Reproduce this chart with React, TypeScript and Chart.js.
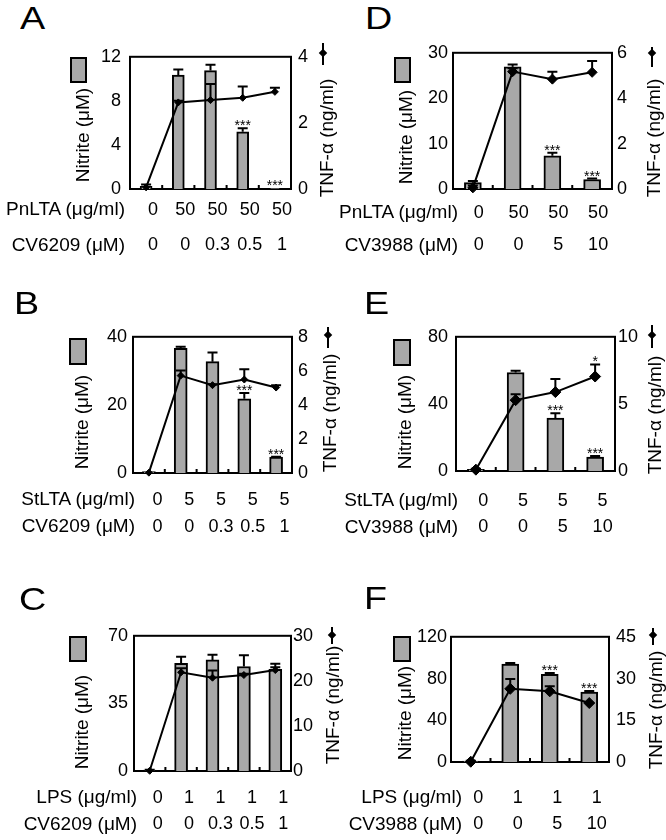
import React, { useEffect, useRef } from 'react';
import { Chart, registerables } from 'chart.js';
Chart.register(...registerables);

Chart.defaults.font.family = '"Liberation Sans", Arial, sans-serif';
Chart.defaults.color = '#000';

// ---------- DATA ----------
// Panel A
const A_dose = ['0', '50', '50', '50', '50'];
const A_inhib = ['0', '0', '0.3', '0.5', '1'];
const A_nitrite = [0.25, 10.35, 10.75, 5.2, 0.05];
const A_nitriteErr = [0.15, 0.5, 0.52, 0.32, 0];
const A_tnf = [0.05, 2.62, 2.69, 2.76, 2.94];
const A_tnfErr = [0, 0.05, 0.49, 0.34, 0.12];
const A_barStars = ['', '', '', '***', '***'];
const A_lineStars = ['', '', '', '', ''];

// Panel B
const B_dose = ['0', '5', '5', '5', '5'];
const B_inhib = ['0', '0', '0.3', '0.5', '1'];
const B_nitrite = [0.4, 36.6, 32.7, 21.8, 4.65];
const B_nitriteErr = [0, 0.5, 2.7, 1.7, 0.15];
const B_tnf = [0.02, 5.72, 5.16, 5.49, 5.02];
const B_tnfErr = [0, 0.3, 0.05, 0.6, 0.13];
const B_barStars = ['', '', '', '***', '***'];
const B_lineStars = ['', '', '', '', ''];

// Panel C
const C_dose = ['0', '1', '1', '1', '1'];
const C_inhib = ['0', '0', '0.3', '0.5', '1'];
const C_nitrite = [0.5, 55.7, 57.5, 54.1, 52.7];
const C_nitriteErr = [0.2, 3.4, 2.7, 5.8, 2.8];
const C_tnf = [0.05, 21.9, 20.7, 21.3, 22.4];
const C_tnfErr = [0, 0.9, 1.6, 0.3, 0.6];
const C_barStars = ['', '', '', '', ''];
const C_lineStars = ['', '', '', '', ''];

// Panel D
const D_dose = ['0', '50', '50', '50'];
const D_inhib = ['0', '0', '5', '10'];
const D_nitrite = [1.4, 26.9, 7.3, 2.1];
const D_nitriteErr = [0.35, 0.5, 0.7, 0.2];
const D_tnf = [0.05, 5.17, 4.84, 5.14];
const D_tnfErr = [0.1, 0.15, 0.33, 0.5];
const D_barStars = ['', '', '***', '***'];
const D_lineStars = ['', '', '', ''];

// Panel E
const E_dose = ['0', '5', '5', '5'];
const E_inhib = ['0', '0', '5', '10'];
const E_nitrite = [1.0, 58.7, 31.6, 8.3];
const E_nitriteErr = [0.3, 1.0, 2.9, 0.7];
const E_tnf = [0.1, 5.28, 5.88, 7.04];
const E_tnfErr = [0.05, 0.44, 0.97, 0.9];
const E_barStars = ['', '', '***', '***'];
const E_lineStars = ['', '', '', '*'];

// Panel F
const F_dose = ['0', '1', '1', '1'];
const F_inhib = ['0', '0', '5', '10'];
const F_nitrite = [1.0, 93.8, 84.0, 67.0];
const F_nitriteErr = [0.3, 1.0, 1.2, 1.0];
const F_tnf = [0.1, 26.3, 25.4, 21.2];
const F_tnfErr = [0, 3.5, 1.8, 0];
const F_barStars = ['', '', '***', '***'];
const F_lineStars = ['', '', '', ''];

const MU = '\u03bc';
const ALPHA = '\u03b1';
const NITRITE_TITLE = `Nitrite (${MU}M)`;
const TNF_TITLE = `TNF-${ALPHA} (ng/ml)`;

// ---------- LAYOUT ----------
const LW = 45;
const RW = 40;
const TP = 15;
const FONT = '"Liberation Sans", Arial, sans-serif';
const BAR_GRAY = '#a8a8a8';

type Panel = {
  letter: string; letterX: number; letterTop: number;
  plot: { l: number; t: number; r: number; b: number }; bh: number;
  dose: string[]; inhib: string[]; doseName: string; inhibName: string;
  nitrite: number[]; nitriteErr: number[]; tnf: number[]; tnfErr: number[];
  barStars: string[]; lineStars: string[];
  leftMax: number; leftStep: number; rightMax: number; rightStep: number;
  barW: number; pointR: number;
  leftPad: number; rightPad: number; labelOffset: number; xPad: number; rowLH: number;
  rowNameRight: number; row1Y: number; row2Y: number;
  box: [number, number, number, number];
  marker: [number, number, number, number];
  nitTitle: [number, number]; tnfTitle: [number, number];
};

const PANELS: Panel[] = [
  {
    letter: 'A', letterX: 20, letterTop: 6,
    plot: { l: 130, t: 52, r: 291, b: 189 }, bh: 80,
    dose: A_dose, inhib: A_inhib, doseName: `PnLTA (${MU}g/ml)`, inhibName: `CV6209 (${MU}M)`,
    nitrite: A_nitrite, nitriteErr: A_nitriteErr, tnf: A_tnf, tnfErr: A_tnfErr,
    barStars: A_barStars, lineStars: A_lineStars,
    leftMax: 12, leftStep: 4, rightMax: 4, rightStep: 2,
    barW: 12, pointR: 3.5,
    leftPad: 9, rightPad: 7, labelOffset: 7, xPad: 3.5, rowLH: 35,
    rowNameRight: 125, row1Y: 209, row2Y: 245,
    box: [70, 57, 17, 26], marker: [322.7, 43, 65, 53],
    nitTitle: [83, 135], tnfTitle: [327, 138],
  },
  {
    letter: 'B', letterX: 14, letterTop: 290.7,
    plot: { l: 133, t: 335, r: 292, b: 473 }, bh: 75,
    dose: B_dose, inhib: B_inhib, doseName: `StLTA (${MU}g/ml)`, inhibName: `CV6209 (${MU}M)`,
    nitrite: B_nitrite, nitriteErr: B_nitriteErr, tnf: B_tnf, tnfErr: B_tnfErr,
    barStars: B_barStars, lineStars: B_lineStars,
    leftMax: 40, leftStep: 20, rightMax: 8, rightStep: 2,
    barW: 13, pointR: 3.5,
    leftPad: 6, rightPad: 6, labelOffset: 8.5, xPad: 13.5, rowLH: 27,
    rowNameRight: 135, row1Y: 499, row2Y: 526,
    box: [69, 338, 18, 27], marker: [328, 326.7, 348, 335],
    nitTitle: [82, 422], tnfTitle: [330, 413],
  },
  {
    letter: 'C', letterX: 19, letterTop: 587,
    plot: { l: 134, t: 634, r: 291, b: 771 }, bh: 69,
    dose: C_dose, inhib: C_inhib, doseName: `LPS (${MU}g/ml)`, inhibName: `CV6209 (${MU}M)`,
    nitrite: C_nitrite, nitriteErr: C_nitriteErr, tnf: C_tnf, tnfErr: C_tnfErr,
    barStars: C_barStars, lineStars: C_lineStars,
    leftMax: 70, leftStep: 35, rightMax: 30, rightStep: 10,
    barW: 13, pointR: 3.5,
    leftPad: 6, rightPad: 2, labelOffset: 8, xPad: 14, rowLH: 26,
    rowNameRight: 137, row1Y: 797, row2Y: 824,
    box: [69, 636, 18, 26], marker: [331.7, 626.7, 644, 635],
    nitTitle: [82, 722], tnfTitle: [333, 705],
  },
  {
    letter: 'D', letterX: 365, letterTop: 6,
    plot: { l: 453, t: 52, r: 612, b: 189 }, bh: 80,
    dose: D_dose, inhib: D_inhib, doseName: `PnLTA (${MU}g/ml)`, inhibName: `CV3988 (${MU}M)`,
    nitrite: D_nitrite, nitriteErr: D_nitriteErr, tnf: D_tnf, tnfErr: D_tnfErr,
    barStars: D_barStars, lineStars: D_lineStars,
    leftMax: 30, leftStep: 10, rightMax: 6, rightStep: 2,
    barW: 17, pointR: 5,
    leftPad: 5, rightPad: 5, labelOffset: 6, xPad: 8, rowLH: 32,
    rowNameRight: 458, row1Y: 212, row2Y: 245,
    box: [394, 57, 17, 26], marker: [651.7, 46.7, 66.7, 53],
    nitTitle: [406, 137], tnfTitle: [654, 138],
  },
  {
    letter: 'E', letterX: 363.5, letterTop: 290.7,
    plot: { l: 456, t: 333, r: 615, b: 471 }, bh: 75,
    dose: E_dose, inhib: E_inhib, doseName: `StLTA (${MU}g/ml)`, inhibName: `CV3988 (${MU}M)`,
    nitrite: E_nitrite, nitriteErr: E_nitriteErr, tnf: E_tnf, tnfErr: E_tnfErr,
    barStars: E_barStars, lineStars: E_lineStars,
    leftMax: 80, leftStep: 40, rightMax: 10, rightStep: 5,
    barW: 17, pointR: 5.5,
    leftPad: 8, rightPad: 3, labelOffset: 7.5, xPad: 17, rowLH: 26,
    rowNameRight: 458, row1Y: 500, row2Y: 527,
    box: [393, 339, 18, 27], marker: [651.7, 325, 348, 335],
    nitTitle: [405, 422], tnfTitle: [655, 415],
  },
  {
    letter: 'F', letterX: 363.5, letterTop: 586,
    plot: { l: 451, t: 634, r: 609, b: 762 }, bh: 78,
    dose: F_dose, inhib: F_inhib, doseName: `LPS (${MU}g/ml)`, inhibName: `CV3988 (${MU}M)`,
    nitrite: F_nitrite, nitriteErr: F_nitriteErr, tnf: F_tnf, tnfErr: F_tnfErr,
    barStars: F_barStars, lineStars: F_lineStars,
    leftMax: 120, leftStep: 40, rightMax: 45, rightStep: 15,
    barW: 17, pointR: 5.5,
    leftPad: 4, rightPad: 7, labelOffset: 7.5, xPad: 23, rowLH: 26,
    rowNameRight: 462, row1Y: 797, row2Y: 824,
    box: [393, 636, 18, 26], marker: [653.3, 628, 645, 635],
    nitTitle: [405, 713], tnfTitle: [656, 710],
  },
];

const decoPlugin = {
  id: 'panelDeco',
  beforeDatasetsDraw(chart: any) {
    const { ctx, chartArea: ca } = chart;
    ctx.save();
    ctx.strokeStyle = '#000';
    ctx.lineWidth = 2;
    ctx.strokeRect(ca.left, ca.top, ca.right - ca.left, ca.bottom - ca.top);
    const xs = chart.scales.x;
    const n = chart.data.labels.length;
    ctx.fillStyle = '#000';
    for (let i = 0; i < n - 1; i++) {
      const x = (xs.getPixelForValue(i) + xs.getPixelForValue(i + 1)) / 2;
      ctx.fillRect(x - 1, ca.bottom - 4, 2, 4);
    }
    ctx.restore();
  },
  afterDatasetsDraw(chart: any) {
    const { ctx } = chart;
    ctx.save();
    chart.data.datasets.forEach((ds: any, di: number) => {
      const meta = chart.getDatasetMeta(di);
      const scale = chart.scales[ds.yAxisID];
      meta.data.forEach((el: any, i: number) => {
        const v = ds.data[i];
        const err = ds.errors ? ds.errors[i] : 0;
        const yv = scale.getPixelForValue(v);
        const yTop = scale.getPixelForValue(v + err);
        if (err > 0) {
          ctx.strokeStyle = '#000';
          ctx.lineWidth = 2;
          ctx.beginPath();
          ctx.moveTo(el.x, yv);
          ctx.lineTo(el.x, yTop);
          ctx.moveTo(el.x - 5, yTop);
          ctx.lineTo(el.x + 5, yTop);
          ctx.stroke();
        }
        const s = ds.stars ? ds.stars[i] : '';
        if (s) {
          ctx.fillStyle = '#000';
          ctx.font = `14px ${FONT}`;
          ctx.textAlign = 'center';
          ctx.textBaseline = 'alphabetic';
          ctx.fillText(s, el.x, yTop + 2);
        }
      });
    });
    ctx.restore();
  },
};

function PanelChart({ p }: { p: Panel }) {
  const ref = useRef<HTMLCanvasElement>(null);
  const cw = LW + (p.plot.r - p.plot.l) + RW;
  const ch = TP + (p.plot.b - p.plot.t) + p.bh;
  useEffect(() => {
    if (!ref.current) return;
    const labels = p.dose.map((d, i) => [d, p.inhib[i]]);
    const chart = new Chart(ref.current, {
      type: 'bar',
      data: {
        labels,
        datasets: [
          {
            type: 'line',
            data: p.tnf,
            errors: p.tnfErr,
            stars: p.lineStars,
            yAxisID: 'y1',
            borderColor: '#000',
            borderWidth: 2,
            pointStyle: 'rectRot',
            pointRadius: p.pointR,
            pointBackgroundColor: '#000',
            pointBorderColor: '#000',
            pointBorderWidth: 1,
            tension: 0,
            clip: false,
            order: 0,
          } as any,
          {
            type: 'bar',
            data: p.nitrite,
            errors: p.nitriteErr,
            stars: p.barStars,
            yAxisID: 'y',
            backgroundColor: BAR_GRAY,
            borderColor: '#000',
            borderWidth: 2,
            barThickness: p.barW,
            order: 1,
          } as any,
        ],
      },
      options: {
        responsive: false,
        maintainAspectRatio: false,
        animation: false,
        events: [],
        layout: { padding: { top: TP, left: 0, right: 0, bottom: 0 } },
        plugins: { legend: { display: false }, tooltip: { enabled: false } },
        scales: {
          x: {
            type: 'category',
            offset: true,
            grid: { display: false, drawTicks: false },
            border: { display: false },
            ticks: {
              color: '#000',
              font: { size: 18, lineHeight: `${p.rowLH}px` },
              padding: p.xPad,
              labelOffset: p.labelOffset,
              maxRotation: 0,
              minRotation: 0,
              autoSkip: false,
            },
            afterFit: (s: any) => { s.height = p.bh; },
          },
          y: {
            position: 'left',
            min: 0,
            max: p.leftMax,
            grid: { display: false, drawTicks: false },
            border: { display: false },
            ticks: { stepSize: p.leftStep, color: '#000', font: { size: 18 }, padding: p.leftPad },
            afterFit: (s: any) => { s.width = LW; },
          },
          y1: {
            position: 'right',
            min: 0,
            max: p.rightMax,
            grid: { display: false, drawTicks: false },
            border: { display: false },
            ticks: { stepSize: p.rightStep, color: '#000', font: { size: 18 }, padding: p.rightPad },
            afterFit: (s: any) => { s.width = RW; },
          },
        },
      } as any,
      plugins: [decoPlugin],
    });
    return () => chart.destroy();
  }, []);
  return (
    <canvas
      ref={ref}
      width={cw}
      height={ch}
      style={{ position: 'absolute', left: p.plot.l - LW, top: p.plot.t - TP, width: cw, height: ch }}
    />
  );
}

function PanelText({ p }: { p: Panel }) {
  const txt: React.CSSProperties = {
    position: 'absolute', fontFamily: FONT, fontSize: 19, lineHeight: '20px',
    whiteSpace: 'nowrap', color: '#000',
  };
  return (
    <>
      <div style={{
        position: 'absolute', left: p.letterX, top: p.letterTop - 4.2, fontFamily: FONT,
        fontSize: 32, lineHeight: '32px', transform: 'scaleX(1.18)', transformOrigin: 'left top',
      }}>{p.letter}</div>
      <div style={{ ...txt, right: 666 - p.rowNameRight, top: p.row1Y - 10 }}>{p.doseName}</div>
      <div style={{ ...txt, right: 666 - p.rowNameRight, top: p.row2Y - 10 }}>{p.inhibName}</div>
      <div style={{ ...txt, left: p.nitTitle[0], top: p.nitTitle[1], transform: 'translate(-50%, -50%) rotate(-90deg)' }}>{NITRITE_TITLE}</div>
      <div style={{ ...txt, left: p.tnfTitle[0], top: p.tnfTitle[1], transform: 'translate(-50%, -50%) rotate(-90deg)' }}>{TNF_TITLE}</div>
      <div style={{
        position: 'absolute', left: p.box[0], top: p.box[1], width: p.box[2], height: p.box[3],
        boxSizing: 'border-box', border: '2px solid #000', background: BAR_GRAY,
      }} />
      <div style={{
        position: 'absolute', left: p.marker[0] - 1, top: p.marker[1], width: 2, height: p.marker[2] - p.marker[1],
        background: '#000',
      }} />
      <div style={{
        position: 'absolute', left: p.marker[0] - 3, top: p.marker[3] - 3, width: 6, height: 6,
        background: '#000', transform: 'rotate(45deg)',
      }} />
    </>
  );
}

export default function App() {
  return (
    <div style={{ position: 'absolute', left: 0, top: 0, width: 666, height: 840, overflow: 'hidden', background: '#fff' }}>
      {PANELS.map((p) => <PanelChart key={p.letter} p={p} />)}
      {PANELS.map((p) => <PanelText key={'t' + p.letter} p={p} />)}
    </div>
  );
}
